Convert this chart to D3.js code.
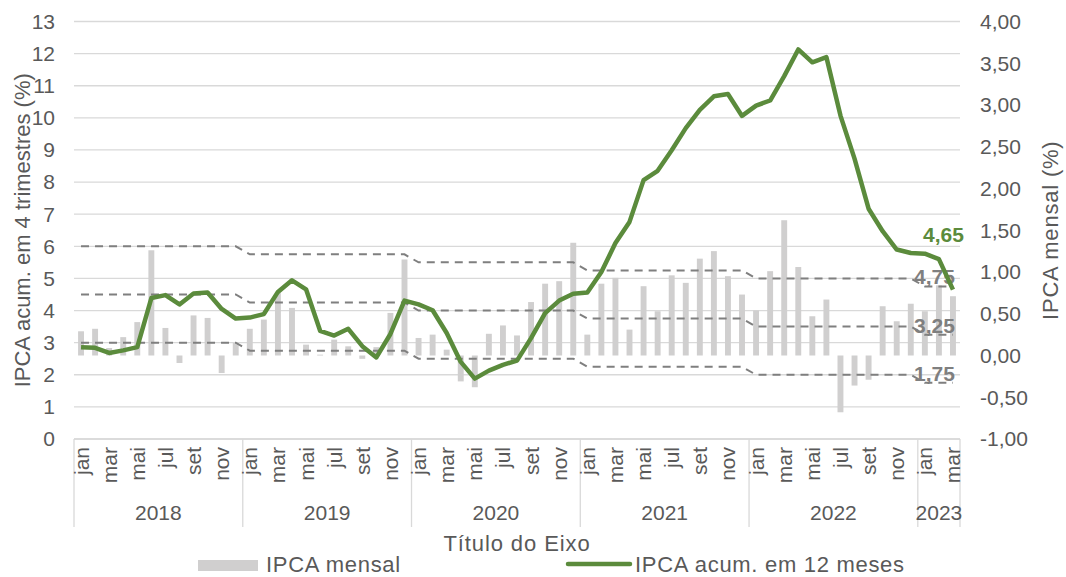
<!DOCTYPE html>
<html>
<head>
<meta charset="utf-8">
<script src="https://cdn.jsdelivr.net/npm/d3@7"></script>
<style>
  body { margin: 0; background: #fff; }
  svg { font-family: "Liberation Sans", Arial, sans-serif; }
</style>
</head>
<body>
<svg id="chart" width="1066" height="577"></svg>
<script>
// data: jan/2018 .. mar/2023
var years = [2018, 2019, 2020, 2021, 2022, 2023];
var monthNames = ["jan","fev","mar","abr","mai","jun","jul","ago","set","out","nov","dez"];

var ipcaMensal = [
  0.29, 0.32, 0.09, 0.22, 0.40, 1.26, 0.33, -0.09, 0.48, 0.45, -0.21, 0.15,
  0.32, 0.43, 0.75, 0.57, 0.13, 0.01, 0.19, 0.11, -0.04, 0.10, 0.51, 1.15,
  0.21, 0.25, 0.07, -0.31, -0.38, 0.26, 0.36, 0.24, 0.64, 0.86, 0.89, 1.35,
  0.25, 0.86, 0.93, 0.31, 0.83, 0.53, 0.96, 0.87, 1.16, 1.25, 0.95, 0.73,
  0.54, 1.01, 1.62, 1.06, 0.47, 0.67, -0.68, -0.36, -0.29, 0.59, 0.41, 0.62,
  0.53, 0.84, 0.71
];

var ipca12m = [
  2.86, 2.84, 2.68, 2.76, 2.86, 4.39, 4.48, 4.19, 4.53, 4.56, 4.05, 3.75,
  3.78, 3.89, 4.58, 4.94, 4.66, 3.37, 3.22, 3.43, 2.89, 2.54, 3.27, 4.31,
  4.19, 4.01, 3.30, 2.40, 1.88, 2.13, 2.31, 2.44, 3.14, 3.92, 4.31, 4.52,
  4.56, 5.20, 6.10, 6.76, 8.06, 8.35, 8.99, 9.68, 10.25, 10.67, 10.74, 10.06,
  10.38, 10.54, 11.30, 12.13, 11.73, 11.89, 10.07, 8.73, 7.17, 6.47, 5.90, 5.79,
  5.77, 5.60, 4.65
];

// meta de inflação por ano (centro) e tolerância
var metaCentro = [4.5, 4.25, 4.0, 3.75, 3.5, 3.25];
var tolerancia = 1.5;

var leftTicks = d3.range(0, 14);
var rightTicks = d3.range(-1, 4.01, 0.5);

var months = [];
years.forEach(function(y, yi){
  monthNames.forEach(function(m, mi){
    if (months.length < ipcaMensal.length) months.push({i: months.length, year: y, yi: yi, m: m});
  });
});

var svg = d3.select("#chart");
var x0 = 74, x1 = 960, yTop = 21.5, yBot = 439;
var textColor = "#595959", gridColor = "#d9d9d9";
var green = "#5b8b3c", gray = "#7f7f7f";
var fs = 21;

var x = d3.scaleBand().domain(months.map(function(d){ return d.i; })).range([x0, x1]).paddingInner(0.58).paddingOuter(0.29);
var xc = function(i){ return x(i) + x.bandwidth() / 2; };
var yL = d3.scaleLinear().domain([0, 13]).range([yBot, yTop]);
var yR = d3.scaleLinear().domain([-1, 4]).range([yBot, yTop]);

// gridlines
svg.append("g").selectAll("line").data(leftTicks).enter().append("line")
  .attr("x1", x0).attr("x2", x1)
  .attr("y1", function(d){ return yL(d); }).attr("y2", function(d){ return yL(d); })
  .attr("stroke", gridColor).attr("stroke-width", 1.3);

// left axis labels
svg.append("g").selectAll("text").data(leftTicks).enter().append("text")
  .attr("x", 55).attr("y", function(d){ return yL(d); }).attr("dy", "0.35em")
  .attr("text-anchor", "end").attr("font-size", fs).attr("fill", textColor)
  .text(function(d){ return d; });

// right axis labels
var fmt = function(v){ return d3.format(".2f")(v).replace(".", ",").replace("−", "-"); };
svg.append("g").selectAll("text").data(rightTicks).enter().append("text")
  .attr("x", 980).attr("y", function(d){ return yR(d); }).attr("dy", "0.35em")
  .attr("text-anchor", "start").attr("font-size", fs).attr("fill", textColor)
  .text(function(d){ return fmt(d); });

// axis titles
svg.append("text").attr("transform", "translate(30," + ((yTop + yBot) / 2) + ") rotate(-90)")
  .attr("text-anchor", "middle").attr("font-size", 22).attr("fill", textColor)
  .text("IPCA acum. em 4 trimestres (%)");
svg.append("text").attr("transform", "translate(1058," + ((yTop + yBot) / 2) + ") rotate(-90)")
  .attr("text-anchor", "middle").attr("font-size", 22).attr("letter-spacing", 0.8).attr("fill", textColor)
  .text("IPCA mensal (%)");

// bars
svg.append("g").selectAll("rect").data(months).enter().append("rect")
  .attr("x", function(d){ return x(d.i); })
  .attr("width", x.bandwidth())
  .attr("y", function(d){ return yR(Math.max(0, ipcaMensal[d.i])); })
  .attr("height", function(d){ return Math.abs(yR(ipcaMensal[d.i]) - yR(0)); })
  .attr("fill", "#d0cfcf");

// target band (dashed)
var bandLines = [
  {off: tolerancia, label: "4,75"},
  {off: 0, label: "3,25"},
  {off: -tolerancia, label: "1,75"}
];
var dashLine = d3.line().x(function(d){ return xc(d.i); });
bandLines.forEach(function(b){
  dashLine.y(function(d){ return yL(metaCentro[d.yi] + b.off); });
  svg.append("path").datum(months).attr("d", dashLine)
    .attr("fill", "none").attr("stroke", gray).attr("stroke-width", 2)
    .attr("stroke-dasharray", "8,6");
  var last = months[months.length - 1];
  svg.append("text")
    .attr("x", xc(last.i) + 2).attr("y", yL(metaCentro[last.yi] + b.off) - 2)
    .attr("text-anchor", "end").attr("font-size", fs).attr("font-weight", "bold")
    .attr("fill", gray).text(b.label);
});

// 12 month line
var line = d3.line().x(function(d){ return xc(d.i); }).y(function(d){ return yL(ipca12m[d.i]); });
svg.append("path").datum(months).attr("d", line)
  .attr("fill", "none").attr("stroke", green).attr("stroke-width", 4.5)
  .attr("stroke-linejoin", "round");

var lastM = months[months.length - 1];
svg.append("text")
  .attr("x", xc(lastM.i) + 11).attr("y", yL(ipca12m[lastM.i]) - 48)
  .attr("text-anchor", "end").attr("font-size", fs).attr("font-weight", "bold")
  .attr("fill", green).text(d3.format(".2f")(ipca12m[lastM.i]).replace(".", ","));

// category axis
svg.append("line").attr("x1", x0).attr("x2", x1).attr("y1", yBot).attr("y2", yBot)
  .attr("stroke", gridColor).attr("stroke-width", 1.3);

var yearBounds = years.map(function(y, yi){
  var ms = months.filter(function(d){ return d.yi === yi; });
  return {year: y, start: x0 + ms[0].i * x.step(), end: x0 + (ms[ms.length - 1].i + 1) * x.step()};
});
svg.append("g").selectAll("line").data([x0].concat(yearBounds.map(function(b){ return b.end; })))
  .enter().append("line")
  .attr("x1", function(d){ return d; }).attr("x2", function(d){ return d; })
  .attr("y1", yBot).attr("y2", 527)
  .attr("stroke", gridColor).attr("stroke-width", 1.3);

svg.append("g").selectAll("text").data(months.filter(function(d){ return d.i % 2 === 0; }))
  .enter().append("text")
  .attr("transform", function(d){ return "translate(" + (xc(d.i) + 7.5) + ",447) rotate(-90)"; })
  .attr("text-anchor", "end").attr("font-size", fs).attr("fill", textColor)
  .text(function(d){ return d.m; });

svg.append("g").selectAll("text").data(yearBounds).enter().append("text")
  .attr("x", function(d){ return (d.start + d.end) / 2; }).attr("y", 520)
  .attr("text-anchor", "middle").attr("font-size", fs).attr("fill", textColor)
  .text(function(d){ return d.year; });

svg.append("text").attr("x", (x0 + x1) / 2).attr("y", 551)
  .attr("text-anchor", "middle").attr("font-size", 22).attr("letter-spacing", 0.9).attr("fill", textColor)
  .text("Título do Eixo");

// legend
var lg = svg.append("g");
lg.append("rect").attr("x", 198).attr("y", 560).attr("width", 60).attr("height", 11).attr("fill", "#d0cfcf");
lg.append("text").attr("x", 266).attr("y", 572).attr("font-size", 22).attr("letter-spacing", 0.7)
  .attr("fill", textColor).text("IPCA mensal");
lg.append("line").attr("x1", 568).attr("x2", 630).attr("y1", 564).attr("y2", 564)
  .attr("stroke", green).attr("stroke-width", 4.5).attr("stroke-linecap", "round");
lg.append("text").attr("x", 635).attr("y", 572).attr("font-size", 22).attr("letter-spacing", 0.7)
  .attr("fill", textColor).text("IPCA acum. em 12 meses");
</script>
</body>
</html>
